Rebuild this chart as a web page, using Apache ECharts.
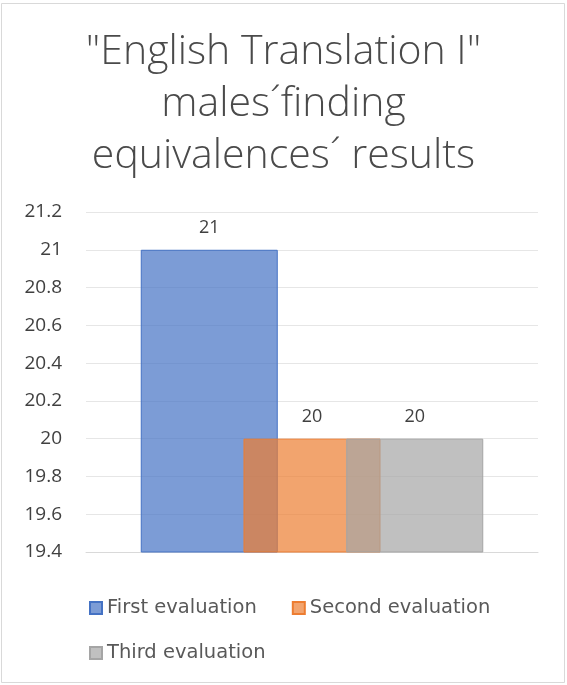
<!DOCTYPE html>
<html>
<head>
<meta charset="utf-8">
<script src="https://cdn.jsdelivr.net/npm/echarts@6/dist/echarts.min.js"></script>
<style>
  html, body { margin: 0; padding: 0; background: #ffffff; }
  #chart { width: 567px; height: 685px; }
</style>
</head>
<body>
<div id="chart"></div>
<script>
// Evaluation scores of males finding equivalences
const categories = ['Results'];
const seriesNames = ['First evaluation', 'Second evaluation', 'Third evaluation'];
const firstEval = [21];
const secondEval = [20];
const thirdEval = [20];
const seriesColors = ['#4472C4', '#ED7D31', '#A5A5A5'];
const titleLines = ['"English Translation I"', 'males\u00B4finding', 'equivalences\u00B4 results'];

const chart = echarts.init(document.getElementById('chart'), null, { renderer: 'canvas' });

function barSeries(name, values, color) {
  return {
    name: name,
    type: 'bar',
    data: values,
    barWidth: 137,
    barGap: '-25%',
    itemStyle: {
      color: echarts.color.modifyAlpha(color, 0.7),
      borderColor: color,
      borderWidth: 1
    },
    label: {
      show: true,
      position: 'top',
      distance: 13,
      color: '#404040',
      fontFamily: 'Open Sans',
      fontSize: 18,
      formatter: p => String(p.value)
    }
  };
}

const legendText = { color: '#595959', fontFamily: 'DejaVu Sans', fontSize: 19.5 };

chart.setOption({
  animation: false,
  backgroundColor: '#ffffff',
  title: {
    text: titleLines.join('\n'),
    left: 'center',
    top: 21,
    textStyle: {
      color: '#4a4a4a',
      fontFamily: 'Open Sans',
      fontWeight: 300,
      fontSize: 41,
      lineHeight: 52
    }
  },
  graphic: [{
    type: 'rect',
    shape: { x: 1.5, y: 3.5, width: 563, height: 679 },
    style: { fill: 'none', stroke: '#d9d9d9', lineWidth: 1 },
    silent: true
  }],
  legend: [{
    data: seriesNames.slice(0, 2),
    left: 84,
    top: 593,
    orient: 'horizontal',
    itemWidth: 12,
    itemHeight: 12,
    itemGap: 35,
    icon: 'rect',
    textStyle: legendText
  }, {
    data: seriesNames.slice(2),
    left: 84,
    top: 638,
    orient: 'horizontal',
    itemWidth: 12,
    itemHeight: 12,
    icon: 'rect',
    textStyle: legendText
  }],
  grid: { left: 86, right: 29, top: 212, bottom: 133 },
  xAxis: {
    type: 'category',
    data: categories,
    axisLine: { show: true, lineStyle: { color: '#d9d9d9' } },
    axisTick: { show: false },
    axisLabel: { show: false }
  },
  yAxis: {
    type: 'value',
    min: 19.4,
    max: 21.2,
    interval: 0.2,
    axisLine: { show: false },
    axisTick: { show: false },
    splitLine: { lineStyle: { color: '#e6e6e6' } },
    axisLabel: {
      color: '#404040',
      fontFamily: 'Open Sans',
      fontSize: 19,
      margin: 24,
      formatter: v => String(parseFloat(v.toFixed(1)))
    }
  },
  series: [
    barSeries(seriesNames[0], firstEval, seriesColors[0]),
    barSeries(seriesNames[1], secondEval, seriesColors[1]),
    barSeries(seriesNames[2], thirdEval, seriesColors[2])
  ]
});
</script>
</body>
</html>
